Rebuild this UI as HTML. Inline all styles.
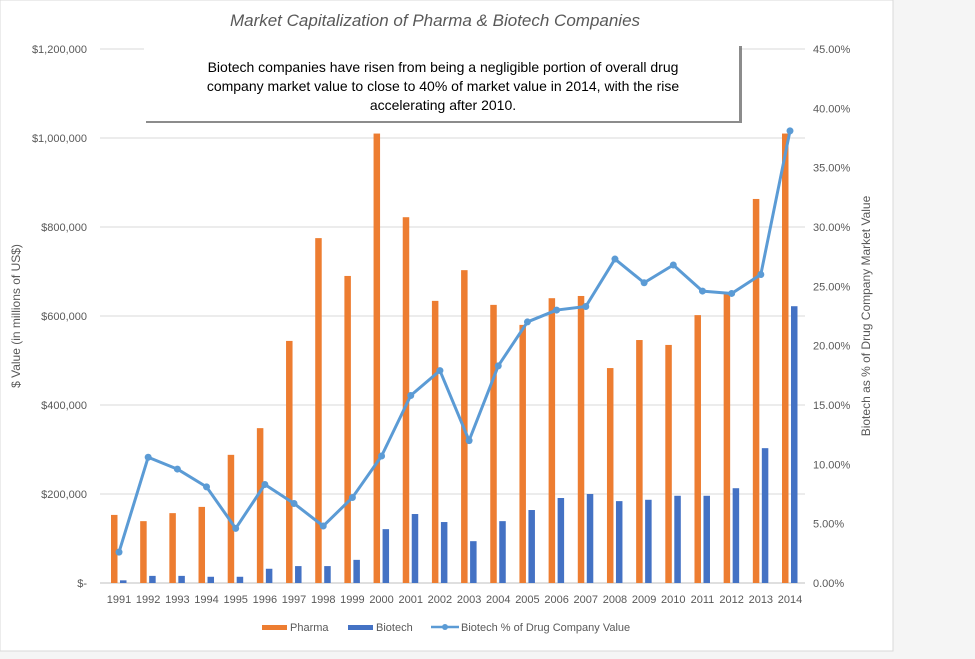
<!DOCTYPE html>
<html><head><meta charset="utf-8"><style>
html,body{margin:0;padding:0;background:#f5f5f5;}
svg{display:block;font-family:"Liberation Sans",Arial,sans-serif;}
</style></head><body>
<svg id="c" width="975" height="659" viewBox="0 0 975 659">
<rect x="0" y="0" width="893" height="651" fill="#fff" stroke="#d9d9d9"/>
<text x="435" y="26" text-anchor="middle" font-size="17" font-style="italic" fill="#595959">Market Capitalization of Pharma &amp; Biotech Companies</text>
<g id="grid"></g><g id="bars"></g><g id="line"></g><g id="axes"></g>
<g>
<rect x="146" y="46" width="596" height="77" fill="#666" opacity="0.75"/>
<rect x="144" y="45" width="595" height="76" fill="#fff"/>
<text x="443" y="72" text-anchor="middle" font-size="14" fill="#000">Biotech companies have risen from being a negligible portion of overall drug</text>
<text x="443" y="91" text-anchor="middle" font-size="14" fill="#000">company market value to close to 40% of market value in 2014, with the rise</text>
<text x="443" y="110" text-anchor="middle" font-size="14" fill="#000">accelerating after 2010.</text>
</g>
<text transform="translate(20,316) rotate(-90)" text-anchor="middle" font-size="12" fill="#595959">$ Value (in millions of US$)</text>
<text transform="translate(870,316) rotate(-90)" text-anchor="middle" font-size="12" fill="#595959">Biotech as % of Drug Company Market Value</text>
<g font-size="11" fill="#595959">
<rect x="262" y="625" width="25" height="5" fill="#ed7d31"/>
<text x="290" y="631">Pharma</text>
<rect x="348" y="625" width="25" height="5" fill="#4472c4"/>
<text x="376" y="631">Biotech</text>
<line x1="431" y1="627" x2="459" y2="627" stroke="#5b9bd5" stroke-width="2.5"/>
<circle cx="445" cy="627" r="3" fill="#5b9bd5"/>
<text x="461" y="631">Biotech % of Drug Company Value</text>
</g>
</svg>
<script>
const years=[1991,1992,1993,1994,1995,1996,1997,1998,1999,2000,2001,2002,2003,2004,2005,2006,2007,2008,2009,2010,2011,2012,2013,2014];
const pharma=[153000,139000,157000,171000,288000,348000,544000,775000,690000,1010000,822000,634000,703000,625000,580000,640000,645000,483000,546000,535000,602000,654000,863000,1010000];
const biotech=[6000,16000,16000,14000,14000,32000,38000,38000,52000,121000,155000,137000,94000,139000,164000,191000,200000,184000,187000,196000,196000,213000,303000,622000];
const pct=[2.6,10.6,9.6,8.1,4.6,8.3,6.7,4.8,7.2,10.7,15.8,17.9,12.0,18.3,22.0,23.0,23.3,27.3,25.3,26.8,24.6,24.4,26.0,38.1];
const leftTicks=[0,200000,400000,600000,800000,1000000,1200000];
const leftLabels=["$-","$200,000","$400,000","$600,000","$800,000","$1,000,000","$1,200,000"];
const rightTicks=[0,5,10,15,20,25,30,35,40,45];
const NS="http://www.w3.org/2000/svg";
const y0=583,y1=49;
const yL=v=>y0-(v/1200000)*(y0-y1);
const yR=v=>y0-(v/45)*(y0-y1);
const xC=i=>119+i*(790-119)/(years.length-1);
function mk(tag,attrs,parent){const e=document.createElementNS(NS,tag);for(const k in attrs)e.setAttribute(k,attrs[k]);document.getElementById(parent).appendChild(e);return e;}
leftTicks.forEach((t,i)=>{
  const l=mk('line',{x1:100,x2:805,y1:yL(t),y2:yL(t),stroke:i==0?'#bfbfbf':'#d9d9d9','stroke-width':1},'grid');
  
  
  const tx=mk('text',{x:87,y:yL(t)+4,'text-anchor':'end','font-size':11,fill:'#595959'},'axes');
  tx.textContent=leftLabels[i];
  
  
});
rightTicks.forEach(t=>{
  const tx=mk('text',{x:813,y:yR(t)+4,'font-size':11,fill:'#595959'},'axes');
  tx.textContent=t.toFixed(2)+'%';
  
  
});
years.forEach((yr,i)=>{
  const c=xC(i);
  const a=mk('rect',{x:c-8,y:yL(pharma[i]),width:6.5,height:y0-yL(pharma[i]),fill:'#ed7d31'},'bars');
  
  
  const b=mk('rect',{x:c+1,y:yL(biotech[i]),width:6.5,height:y0-yL(biotech[i]),fill:'#4472c4'},'bars');
  
  
  const tx=mk('text',{x:c,y:603,'text-anchor':'middle','font-size':11,fill:'#595959'},'axes');
  tx.textContent=yr;
  
  
});
const pl=mk('polyline',{points:pct.map((v,i)=>xC(i)+','+yR(v)).join(' '),fill:'none',stroke:'#5b9bd5','stroke-width':3,'stroke-linejoin':'round'},'line');


pct.forEach((v,i)=>{
  const p=mk('circle',{cx:xC(i),cy:yR(v),r:3.5,fill:'#5b9bd5'},'line');
  
  
});
</script>
</body></html>
